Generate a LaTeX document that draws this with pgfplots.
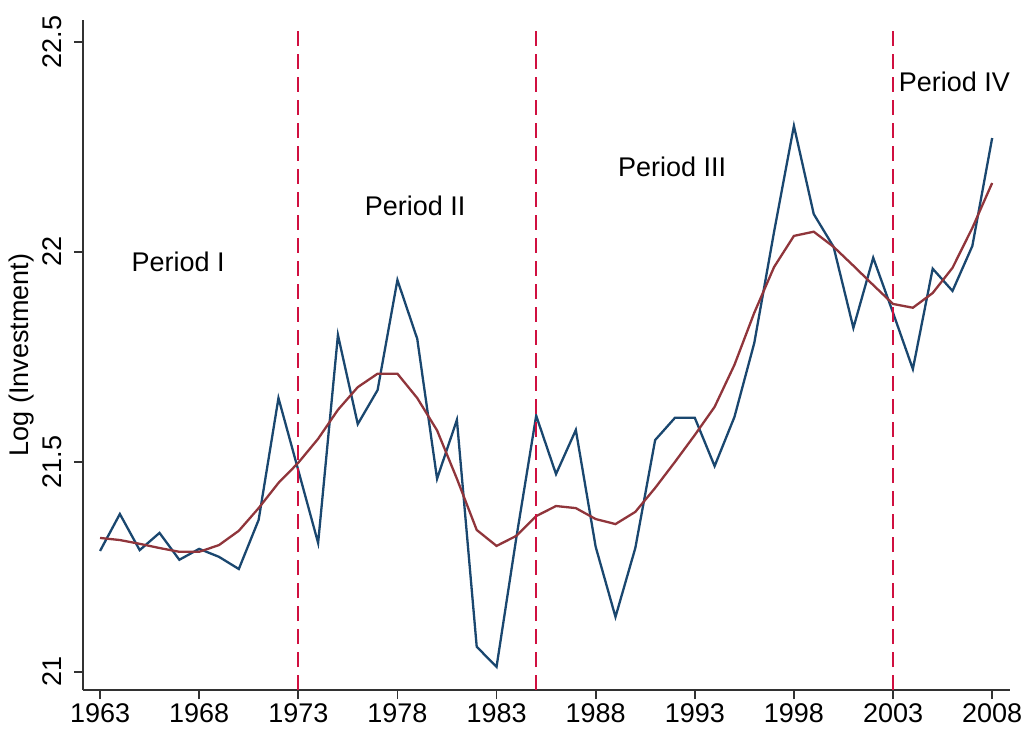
\documentclass[border=0pt]{standalone}
\usepackage{pgfplots}
\pgfplotsset{compat=1.18}
\usepackage{fontspec}
\setmainfont{Liberation Sans}
\definecolor{sblue}{RGB}{26,71,111}
\definecolor{sred}{RGB}{144,53,59}
\definecolor{sdash}{RGB}{208,16,64}
\definecolor{saxis}{RGB}{50,50,50}
\pgfplotstableread{
year inv
1963 21.288
1964 21.376
1965 21.290
1966 21.331
1967 21.267
1968 21.293
1969 21.274
1970 21.245
1971 21.362
1972 21.652
1973 21.480
1974 21.307
1975 21.802
1976 21.590
1977 21.671
1978 21.933
1979 21.793
1980 21.460
1981 21.600
1982 21.060
1983 21.012
1984 21.320
1985 21.610
1986 21.471
1987 21.576
1988 21.298
1989 21.131
1990 21.295
1991 21.552
1992 21.605
1993 21.605
1994 21.490
1995 21.607
1996 21.783
1997 22.048
1998 22.300
1999 22.090
2000 22.012
2001 21.819
2002 21.986
2003 21.855
2004 21.721
2005 21.960
2006 21.907
2007 22.014
2008 22.271
}\actual
\pgfplotstableread{
year trend
1963 21.319
1964 21.314
1965 21.305
1966 21.295
1967 21.286
1968 21.286
1969 21.302
1970 21.336
1971 21.390
1972 21.450
1973 21.498
1974 21.555
1975 21.624
1976 21.678
1977 21.710
1978 21.710
1979 21.652
1980 21.575
1981 21.460
1982 21.338
1983 21.300
1984 21.324
1985 21.371
1986 21.395
1987 21.390
1988 21.364
1989 21.352
1990 21.381
1991 21.438
1992 21.500
1993 21.564
1994 21.631
1995 21.731
1996 21.855
1997 21.964
1998 22.038
1999 22.048
2000 22.012
2001 21.967
2002 21.921
2003 21.876
2004 21.867
2005 21.902
2006 21.962
2007 22.057
2008 22.164
}\trend
\begin{document}
\begin{tikzpicture}
\begin{axis}[
  scale only axis,
  width=463.5pt, height=335pt,
  xmin=1962.14, xmax=2008.9,
  ymin=20.957, ymax=22.552,
  axis lines*=left,
  axis line style={saxis, line width=0.9pt},
  every tick/.style={saxis, line width=0.9pt},
  tick align=outside,
  major tick length=4.5pt,
  xtick={1963,1968,1973,1978,1983,1988,1993,1998,2003,2008},
  ytick={21,21.5,22,22.5},
  x tick label style={/pgf/number format/1000 sep={}, inner sep=1pt, yshift=-1pt},
  y tick label style={rotate=90, anchor=south, inner sep=1pt, yshift=5pt},
  /pgf/number format/assume math mode=true,
  tick label style={font=\fontsize{13.5}{15}\selectfont},
  label style={font=\fontsize{13.5}{15}\selectfont},
  ylabel={Log (Investment)},
  ylabel style={at={(axis description cs:-0.0658,0.5)}, anchor=center},
  clip=false,
]
\addplot[sblue, line width=1.15pt, line join=miter] table[x=year, y=inv] {\actual};
\addplot[sred, line width=1.15pt] table[x=year, y=trend] {\trend};
\addplot[sdash, line width=1pt, dash pattern=on 7.5pt off 4pt] coordinates {(1973,20.957) (1973,22.529)};
\addplot[sdash, line width=1pt, dash pattern=on 7.5pt off 4pt] coordinates {(1985,20.957) (1985,22.529)};
\addplot[sdash, line width=1pt, dash pattern=on 7.5pt off 4pt] coordinates {(2003,20.957) (2003,22.529)};
\node[font=\fontsize{13.5}{15}\selectfont] at (axis cs:1966.94,21.976) {Period I};
\node[font=\fontsize{13.5}{15}\selectfont] at (axis cs:1978.89,22.110) {Period II};
\node[font=\fontsize{13.5}{15}\selectfont] at (axis cs:1991.86,22.202) {Period III};
\node[font=\fontsize{13.5}{15}\selectfont] at (axis cs:2006.1,22.405) {Period IV};
\end{axis}
\pgfresetboundingbox
\path[use as bounding box] (-41.5pt,-19pt) rectangle (469.5pt,345pt);
\end{tikzpicture}
\end{document}
